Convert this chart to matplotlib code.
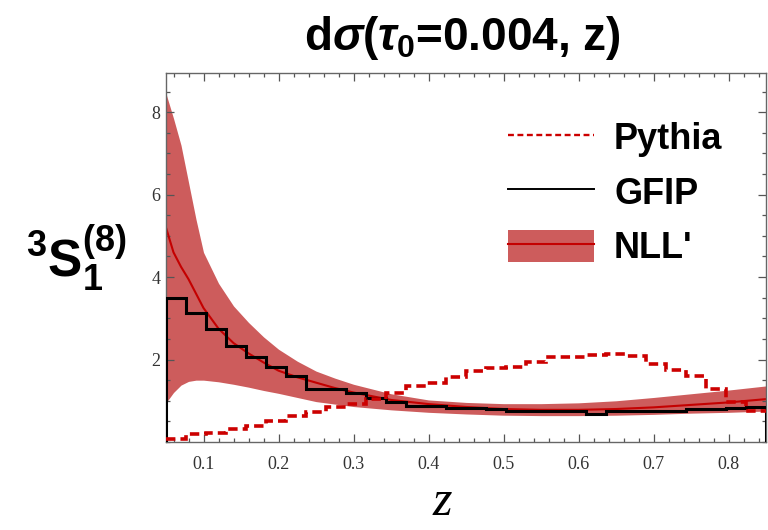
import numpy as np
import matplotlib
matplotlib.use("Agg")
import matplotlib.pyplot as plt
from matplotlib.lines import Line2D
from matplotlib.patches import Patch
from matplotlib.ticker import MultipleLocator

# ---- data -------------------------------------------------------------
z_min, z_max, n_bins = 0.05, 0.85, 30

pythia = [0.08, 0.19, 0.22, 0.31, 0.39, 0.51, 0.63, 0.72, 0.85, 0.92,
          1.04, 1.20, 1.36, 1.42, 1.57, 1.72, 1.80, 1.83, 1.93, 2.05,
          2.06, 2.10, 2.13, 2.08, 1.90, 1.75, 1.60, 1.28, 0.97, 0.75]

gfip = [3.49, 3.12, 2.74, 2.33, 2.06, 1.83, 1.60, 1.28, 1.28, 1.19,
        1.06, 0.97, 0.87, 0.88, 0.82, 0.82, 0.80, 0.75, 0.74, 0.74,
        0.74, 0.68, 0.74, 0.74, 0.75, 0.76, 0.80, 0.80, 0.82, 0.84]

nll_z = [0.05, 0.06, 0.07, 0.08, 0.09, 0.10, 0.12, 0.14, 0.16, 0.18,
         0.20, 0.225, 0.25, 0.275, 0.30, 0.35, 0.40, 0.45, 0.50, 0.55,
         0.60, 0.65, 0.70, 0.75, 0.80, 0.85]
nll_central = [5.2, 4.6, 4.25, 3.95, 3.6, 3.25, 2.75, 2.4, 2.15, 1.93,
               1.73, 1.57, 1.44, 1.31, 1.2, 1.02, 0.92, 0.85, 0.80, 0.78,
               0.78, 0.80, 0.84, 0.90, 0.96, 1.04]
nll_high = [8.45, 7.85, 7.2, 6.3, 5.4, 4.6, 3.85, 3.3, 2.9, 2.55,
            2.25, 1.96, 1.72, 1.55, 1.4, 1.17, 1.02, 0.96, 0.93, 0.93,
            0.95, 1.0, 1.08, 1.17, 1.26, 1.36]
nll_low = [0.95, 1.2, 1.38, 1.47, 1.5, 1.5, 1.46, 1.4, 1.33, 1.25,
           1.18, 1.08, 0.98, 0.92, 0.86, 0.78, 0.72, 0.68, 0.65, 0.64,
           0.64, 0.65, 0.67, 0.70, 0.72, 0.75]

x_ticks = [0.1, 0.2, 0.3, 0.4, 0.5, 0.6, 0.7, 0.8]
y_ticks = [2, 4, 6, 8]

# ---- style ------------------------------------------------------------
plt.rcParams["mathtext.fontset"] = "custom"
plt.rcParams["mathtext.rm"] = "Liberation Sans:bold"
plt.rcParams["mathtext.it"] = "Liberation Sans:italic:bold"
plt.rcParams["mathtext.bf"] = "Liberation Sans:bold"

band_color = "#cd5c5c"
line_red = "#c40000"
dash_red = "#cc0000"

fig = plt.figure(figsize=(7.68, 5.30), dpi=100)
ax = fig.add_axes([166 / 768, 88 / 530, 600 / 768, 369 / 530])

edges = np.linspace(z_min, z_max, n_bins + 1)

ax.fill_between(nll_z, nll_low, nll_high, color=band_color, lw=0, zorder=1)
ax.plot(nll_z, nll_central, color=line_red, lw=1.5, zorder=2)
ax.stairs(gfip, edges, baseline=0, color="black", lw=2.2, zorder=3)
ax.stairs(pythia, edges, baseline=None, color=dash_red, lw=2.6,
          linestyle=(0, (2.6, 1.4)), zorder=4)

ax.set_xlim(z_min, z_max)
ax.set_ylim(0, 8.95)

ax.set_xticks(x_ticks)
ax.set_xticklabels([f"{t:.1f}" for t in x_ticks])
ax.set_yticks(y_ticks)
ax.set_yticklabels([str(t) for t in y_ticks])
ax.xaxis.set_minor_locator(MultipleLocator(0.02))
ax.yaxis.set_minor_locator(MultipleLocator(0.5))
ax.tick_params(which="both", direction="in", top=True, right=True,
               colors="#555555", labelcolor="#333333", width=0.9)
ax.tick_params(which="major", length=6)
ax.tick_params(which="minor", length=3)
ax.tick_params(axis="x", pad=10)
ax.tick_params(axis="y", pad=4)
for lab in ax.get_xticklabels() + ax.get_yticklabels():
    lab.set_fontfamily("Liberation Serif")
    lab.set_fontsize(13)
for sp in ax.spines.values():
    sp.set_color("#666666")
    sp.set_linewidth(1.0)

fig.text(462 / 768, 1 - 38 / 530, r"d$\sigma$($\tau_0$=0.004, z)",
         ha="center", va="center", fontsize=33, fontweight="bold",
         family="Liberation Sans")
fig.text(76 / 768, 1 - 258 / 530, r"$^{3}$S$_{1}^{(8)}$",
         ha="center", va="center", fontsize=37, fontweight="bold",
         family="Liberation Sans")
fig.text(442 / 768, 1 - 503 / 530, "z", ha="center", va="center",
         fontsize=36, style="italic", family="Liberation Serif")

handles = [
    Line2D([], [], color=dash_red, lw=1.7, linestyle=(0, (2.5, 1.5))),
    Line2D([], [], color="black", lw=1.4),
    (Patch(facecolor=band_color, edgecolor="none"),
     Line2D([], [], color=line_red, lw=1.5)),
]
labels = ["Pythia", "GFIP", "NLL'"]
leg = fig.legend(handles, labels, loc="upper left",
                 bbox_to_anchor=(475 / 768, 1 - 88 / 530),
                 frameon=False, handlelength=2.4, handleheight=1.0,
                 handletextpad=0.55, labelspacing=0.5,
                 prop={"family": "Liberation Sans", "weight": "bold",
                       "size": 26})

fig.savefig("out.png", dpi=100)
